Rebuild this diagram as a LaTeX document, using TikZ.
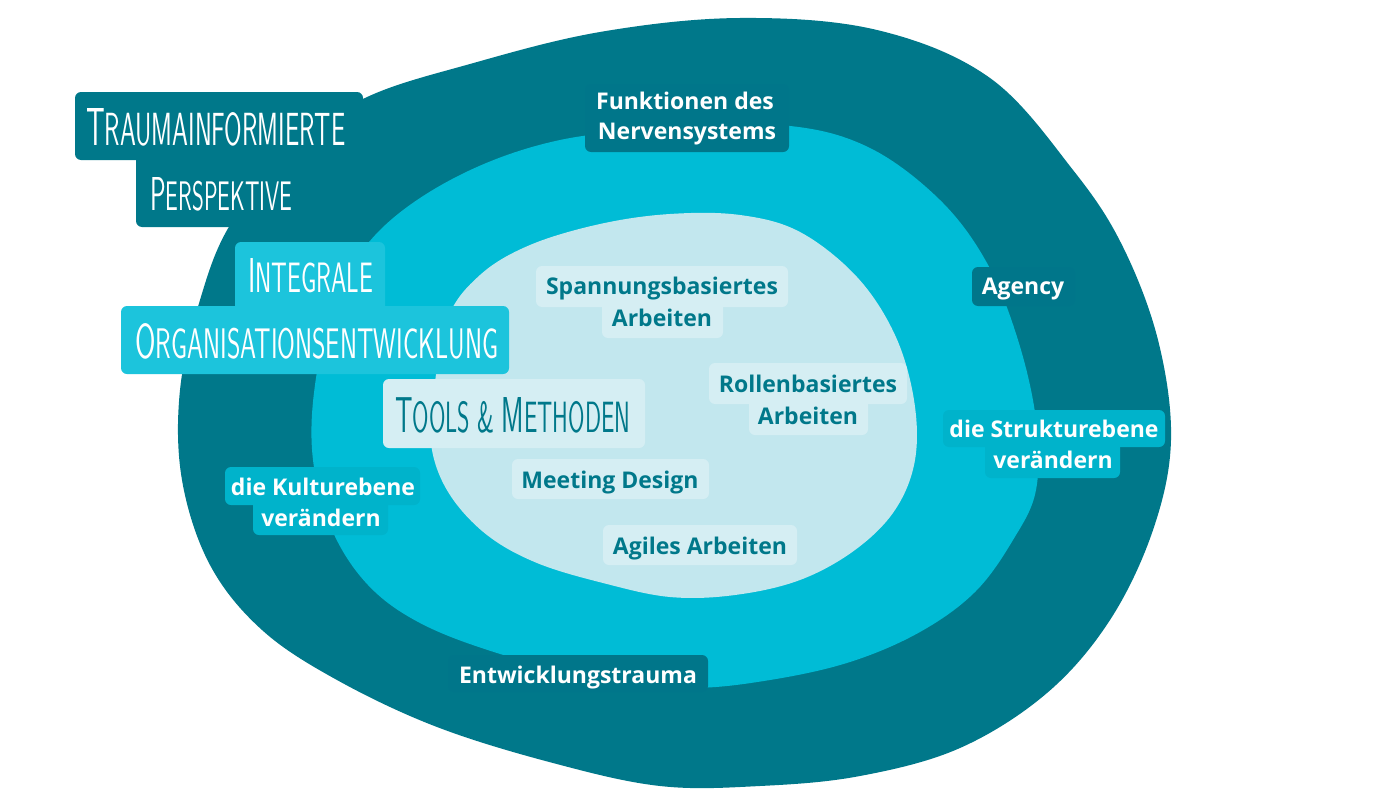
\documentclass[tikz,border=0pt]{standalone}
\usepackage{fontspec}
\setmainfont{Open Sans}
\usepackage{graphicx}
\definecolor{darkteal}{HTML}{00788A}
\definecolor{midcyan}{HTML}{00BCD6}
\definecolor{lightblob}{HTML}{C2E7EE}
\definecolor{boxdark}{HTML}{00768A}
\definecolor{boxcyan}{HTML}{1CC4DC}
\definecolor{boxlight}{HTML}{D5EEF3}
\definecolor{boxmid}{HTML}{00B3CB}
\definecolor{textteal}{HTML}{00788A}
\newcommand{\hndB}{\sffamily\fontsize{53}{53}\selectfont}
\newcommand{\hndS}{\sffamily\fontsize{46}{46}\selectfont}
\begin{document}
\begin{tikzpicture}[x=1pt,y=-1pt,
  lbl/.style={font=\fontsize{23}{23}\selectfont\bfseries, text=white, inner sep=0pt, anchor=base},
  lbldark/.style={lbl, text=textteal},
  hand/.style={inner sep=0pt, anchor=base west, text=white},
  boxr/.style={rounded corners=6pt}]
\useasboundingbox (0,0) rectangle (1400,800);
\fill[white] (0,0) rectangle (1400,800);
% outer blob
\fill[darkteal] plot[smooth cycle, tension=0.6] coordinates {
 (365,98) (470,64) (600,32) (740,18) (877,30) (990,78) (1073,170)
 (1122,245) (1158,340) (1171,440) (1153,530) (1110,620) (1047,693)
 (960,748) (860,776) (760,786) (660,786) (553,763) (437,727) (337,680)
 (262,630) (210,565) (182,480) (180,390) (200,300) (230,225) (290,150)};
% title box
\fill[darkteal, boxr] (75,92) rectangle (363,160);
\fill[darkteal, boxr] (136,150) rectangle (345,227);
% middle blob
\fill[midcyan] plot[smooth cycle, tension=0.6] coordinates {
 (380,230) (460,175) (560,140) (680,128) (790,126) (870,148) (940,200)
 (987,263) (1018,340) (1036,420) (1036,490) (1013,540) (975,592)
 (920,632) (850,662) (770,680) (690,688) (600,680) (497,653) (420,623)
 (368,585) (332,530) (313,460) (315,385) (335,300)};
% inner blob
\fill[lightblob] plot[smooth cycle, tension=0.6] coordinates {
 (433,400) (447,320) (480,275) (530,245) (600,224) (670,214) (740,215)
 (800,232) (857,277) (895,335) (914,400) (915,460) (895,510) (855,550)
 (800,580) (735,595) (670,597) (603,583) (537,563) (487,535) (450,495)
 (432,450)};
% Integrale / Organisationsentwicklung box
\fill[boxcyan, boxr] (235,242) rectangle (385,312);
\fill[boxcyan, boxr] (121,306) rectangle (509,374);
% Tools box
\fill[boxlight, boxr] (383,379) rectangle (645,448);
% label boxes
\fill[boxdark, boxr] (585,84) rectangle (789,152);
\fill[boxdark, boxr] (972,267) rectangle (1075,306);
\fill[boxdark, boxr] (448,655) rectangle (708,692);
\fill[boxmid, boxr] (943,410) rectangle (1165,447);
\fill[boxmid, boxr] (985,440) rectangle (1120,478);
\fill[boxmid, boxr] (225,467) rectangle (420,505);
\fill[boxmid, boxr] (253,498) rectangle (388,535);
\fill[boxlight, boxr] (536,266) rectangle (788,307);
\fill[boxlight, boxr] (602,300) rectangle (723,338);
\fill[boxlight, boxr] (709,363) rectangle (907,404);
\fill[boxlight, boxr] (749,398) rectangle (868,435);
\fill[boxlight, boxr] (512,459) rectangle (709,499);
\fill[boxlight, boxr] (603,525) rectangle (797,565);
% hand-lettered titles
\node[hand] (trauma) at (86,145) {\resizebox{259pt}{37pt}{\hndB T\hndS RAUMAINFORMIERTE}};
\node[hand] (persp) at (150,210) {\resizebox{142pt}{33pt}{\hndB P\hndS ERSPEKTIVE}};
\node[hand] (integ) at (248,292) {\resizebox{125pt}{34pt}{\hndB I\hndS NTEGRALE}};
\node[hand] (orga) at (135,358) {\resizebox{363pt}{35pt}{\hndB O\hndS RGANISATIONSENTWICKLUNG}};
\node[hand, text=textteal] (tools) at (395,432) {\resizebox{235pt}{35pt}{\hndB T\hndS OOLS \& \hndB M\hndS ETHODEN}};
% labels
\node[lbl] (funk1) at (685,109) {Funktionen des};
\node[lbl] (funk2) at (687,139) {Nervensystems};
\node[lbl] (agency) at (1023,294) {Agency};
\node[lbl] (strukt1) at (1054,437) {die Strukturebene};
\node[lbl] (strukt2) at (1053,468) {verändern};
\node[lbl] (kult1) at (323,495) {die Kulturebene};
\node[lbl] (kult2) at (321,526) {verändern};
\node[lbl] (entw) at (578,683) {Entwicklungstrauma};
\node[lbldark] (spann1) at (662,294) {Spannungsbasiertes};
\node[lbldark] (spann2) at (662,326) {Arbeiten};
\node[lbldark] (rollen1) at (808,392) {Rollenbasiertes};
\node[lbldark] (rollen2) at (808,424) {Arbeiten};
\node[lbldark] (meet) at (610,488) {Meeting Design};
\node[lbldark] (agil) at (700,554) {Agiles Arbeiten};
\end{tikzpicture}
\end{document}
